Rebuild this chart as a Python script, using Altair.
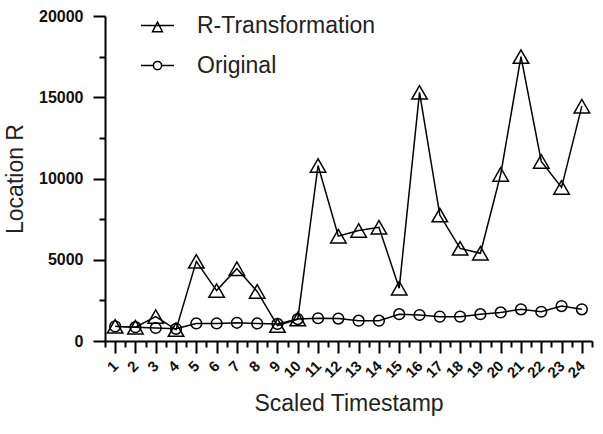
import altair as alt
import pandas as pd

# ---- data ----
timestamps = list(range(1, 25))
r_transformation = [900, 850, 1500, 700, 4900, 3100, 4450, 3050, 950, 1350,
                    10800, 6450, 6800, 7000, 3250, 15300, 7750, 5700, 5400, 10250,
                    17500, 11050, 9450, 14450]
original = [900, 850, 800, 750, 1080, 1080, 1120, 1080, 1050, 1350,
            1400, 1380, 1250, 1250, 1650, 1600, 1500, 1500, 1650, 1760,
            1950, 1800, 2150, 1950]
series_names = ["R-Transformation", "Original"]
x_tick_values = [i / 2 for i in range(1, 50)]        # 0.5 .. 24.5 (major + minor)
y_tick_values = list(range(0, 20001, 2500))          # major every 5000, minor between

rows = []
for name, vals in zip(series_names, [r_transformation, original]):
    for t, v in zip(timestamps, vals):
        rows.append({"t": t, "value": v, "series": name})
df = pd.DataFrame(rows)

FONT = "Liberation Sans"
TXT = "#222222"

# legend glyphs: short line with the marker on it
tri_path = "M-1,0H1M0,-0.2L0.3,0.38L-0.3,0.38Z"
circ_path = "M-1,0H-0.25M0.25,0H1M0.25,0A0.25,0.25 0 1 1 -0.25,0A0.25,0.25 0 1 1 0.25,0"

x_enc = alt.X(
    "t:Q",
    scale=alt.Scale(domain=[0.5, 24.5], nice=False, zero=False),
    axis=alt.Axis(
        values=x_tick_values,
        labelExpr="datum.value % 1 === 0 ? format(datum.value, 'd') : ''",
        tickSize={"condition": {"test": "datum.value % 1 === 0", "value": 12}, "value": 6},
        labelAngle=-45, labelAlign="right", labelBaseline="middle",
        labelFont=FONT, labelFontSize=15, labelFontWeight="bold", labelColor="#111111",
        labelPadding=10, labelFlush=False, labelOverlap=False,
        title="Scaled Timestamp", titleFont=FONT, titleFontSize=23,
        titleFontWeight="normal", titleColor=TXT, titlePadding=12,
        domainColor="black", domainWidth=2, tickColor="black", tickWidth=2, grid=False,
    ),
)
y_enc = alt.Y(
    "value:Q",
    scale=alt.Scale(domain=[0, 20000], nice=False),
    axis=alt.Axis(
        values=y_tick_values,
        labelExpr="datum.value % 5000 === 0 ? format(datum.value, 'd') : ''",
        tickSize={"condition": {"test": "datum.value % 5000 === 0", "value": 12}, "value": 6},
        labelFont=FONT, labelFontSize=16, labelFontWeight="bold", labelColor="#111111",
        labelPadding=10, labelOverlap=False, labelFlush=False,
        title="Location R", titleFont=FONT, titleFontSize=23,
        titleFontWeight="normal", titleColor=TXT, titlePadding=11,
        domainColor="black", domainWidth=2, tickColor="black", tickWidth=2, grid=False,
    ),
)

base = alt.Chart(df)

lines = base.mark_line(color="black", strokeWidth=1.5).encode(
    x=x_enc, y=y_enc, detail="series:N"
)

points = base.mark_point(filled=False, color="black", strokeWidth=1.5, opacity=1).encode(
    x=x_enc,
    y=y_enc,
    shape=alt.Shape(
        "series:N",
        scale=alt.Scale(domain=series_names, range=["triangle-up", "circle"]),
        legend=None,
    ),
    size=alt.Size(
        "series:N",
        scale=alt.Scale(domain=series_names, range=[240, 115]),
        legend=None,
    ),
)

# legend-only layer (draws no marks; supplies line+marker legend glyphs)
legend_layer = base.transform_filter("false").mark_point(
    filled=False, color="black", strokeWidth=1.5, opacity=1
).encode(
    x=x_enc,
    y=y_enc,
    shape=alt.Shape(
        "series:N",
        scale=alt.Scale(domain=series_names, range=[tri_path, circ_path]),
        legend=alt.Legend(
            orient="none", legendX=35, legendY=-8, title=None,
            symbolSize=1089, symbolStrokeWidth=1.5, symbolStrokeColor="black",
            symbolFillColor="transparent",
            labelFont=FONT, labelFontSize=23, labelColor=TXT, labelOffset=22,
            labelLimit=0, rowPadding=10, padding=0,
        ),
    ),
)

chart = (
    alt.layer(lines, points, legend_layer)
    .resolve_scale(shape="independent", size="independent")
    .properties(
        width=487, height=325, autosize="none",
        padding={"left": 105, "top": 16, "right": 11, "bottom": 93},
        background="white",
    )
    .configure_view(stroke=None)
)

chart.save("out.html", embed_options={"renderer": "svg", "actions": False})
